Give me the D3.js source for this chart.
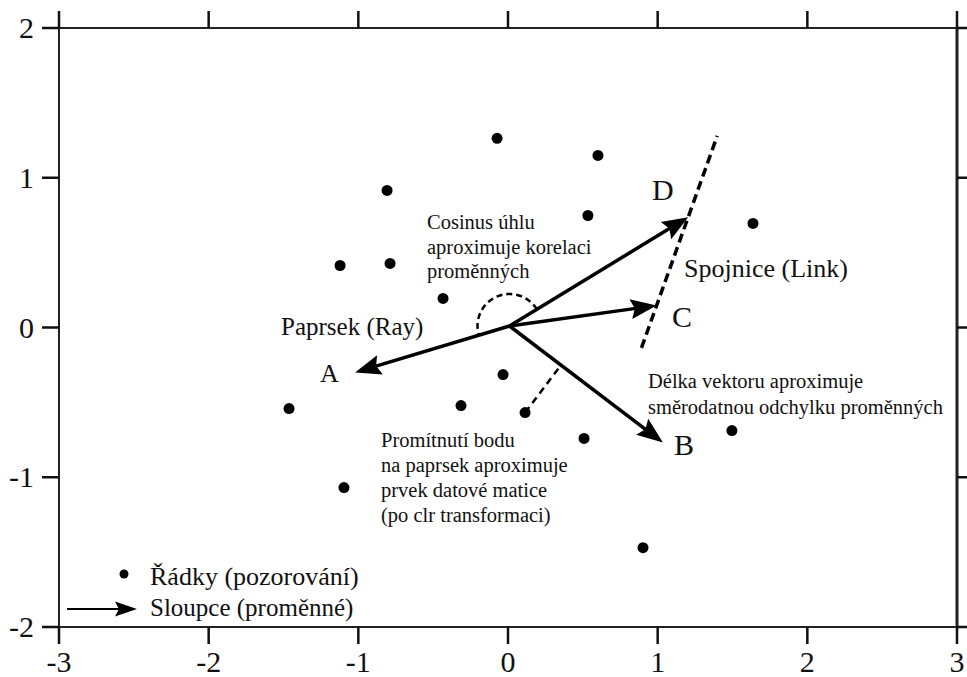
<!DOCTYPE html>
<html><head><meta charset="utf-8">
<script src="https://cdn.jsdelivr.net/npm/d3@7"></script>
<style>html,body{margin:0;padding:0;background:#fff;}svg{display:block;}
svg text{font-family:"Liberation Serif","Times New Roman","DejaVu Serif",serif;}</style>
</head><body>
<script>
// ---- data ----
const rowX = [-0.073, 0.601, -0.808, 0.534, 1.637, -1.122, -0.788, -0.434, -0.033, -0.314, 0.114, -1.463, 0.508, 1.496, -1.096, 0.902];
const rowY = [1.263, 1.149, 0.915, 0.748, 0.695, 0.414, 0.428, 0.194, -0.314, -0.521, -0.568, -0.541, -0.741, -0.688, -1.069, -1.470];
const varNames = ["A", "D", "C", "B"];
const varX = [-1.022, 1.204, 0.993, 1.035];
const varY = [-0.300, 0.737, 0.147, -0.768];
const origin = [0.01, 0.01];
const xTicks = [-3, -2, -1, 0, 1, 2, 3];
const yTicks = [-2, -1, 0, 1, 2];
const projectedRow = 10;   // index of the row projected onto ray B
const projectedVar = 3;    // index of variable B
const legendLabels = ["Řádky (pozorování)", "Sloupce (proměnné)"];

const W = 967, H = 677;
const x = d3.scaleLinear().domain([-3, 3]).range([59, 957]);
const y = d3.scaleLinear().domain([-2, 2]).range([627, 28]);
const FONT = "Liberation Serif, Times New Roman, DejaVu Serif, serif";

const svg = d3.select("body").append("svg").attr("width", W).attr("height", H);

// ---- frame with outward ticks ----
const TL = 17;
const frame = svg.append("g").attr("stroke", "#222").attr("fill", "none");
frame.append("line").attr("x1", x(-3)).attr("x2", x(3)).attr("y1", y(2)).attr("y2", y(2)).attr("stroke-width", 2);
frame.append("line").attr("x1", x(-3)).attr("x2", x(3)).attr("y1", y(-2)).attr("y2", y(-2)).attr("stroke-width", 2);
frame.append("line").attr("x1", x(-3)).attr("x2", x(-3)).attr("y1", y(2)).attr("y2", y(-2)).attr("stroke-width", 2);
frame.append("line").attr("x1", x(3)).attr("x2", x(3)).attr("y1", y(2)).attr("y2", y(-2)).attr("stroke-width", 3);

const tk = svg.append("g").attr("stroke", "#111").attr("stroke-width", 2.5);
xTicks.forEach(v => {
  tk.append("line").attr("x1", x(v)).attr("x2", x(v)).attr("y1", y(2)).attr("y2", y(2) - TL);
  tk.append("line").attr("x1", x(v)).attr("x2", x(v)).attr("y1", y(-2)).attr("y2", y(-2) + TL);
});
yTicks.forEach(v => {
  tk.append("line").attr("x1", x(-3)).attr("x2", x(-3) - TL).attr("y1", y(v)).attr("y2", y(v));
  tk.append("line").attr("x1", x(3)).attr("x2", x(3) + TL).attr("y1", y(v)).attr("y2", y(v));
});

svg.append("g").selectAll("text").data(xTicks).join("text")
  .attr("x", d => x(d)).attr("y", 672).attr("text-anchor", "middle").attr("font-family", FONT)
  .attr("font-size", 30).attr("fill", "#111").text(d => d);
svg.append("g").selectAll("text").data(yTicks).join("text")
  .attr("x", 34).attr("y", d => y(d)).attr("dy", "0.34em").attr("text-anchor", "end").attr("font-family", FONT)
  .attr("font-size", 30).attr("fill", "#111").text(d => d);

// ---- helpers ----
function arrowHead(g, x1, y1, x2, y2, len, hw) {
  const dx = x2 - x1, dy = y2 - y1, L = Math.hypot(dx, dy);
  const ux = dx / L, uy = dy / L, px = -uy, py = ux;
  const bx = x2 - ux * len, by = y2 - uy * len;
  g.append("path").attr("d",
    `M${x2},${y2}L${bx + px * hw},${by + py * hw}L${bx + ux * 4},${by + uy * 4}L${bx - px * hw},${by - py * hw}Z`)
    .attr("fill", "#000");
  return [bx + ux * 5, by + uy * 5];
}

// ---- dashed link through C and D ----
const ci = 2, di = 1;
const lx = t => varX[ci] + t * (varX[di] - varX[ci]);
const ly = t => varY[ci] + t * (varY[di] - varY[ci]);
svg.append("line")
  .attr("x1", x(lx(-0.48))).attr("y1", y(ly(-0.48)))
  .attr("x2", x(lx(1.92))).attr("y2", y(ly(1.92)))
  .attr("stroke", "#000").attr("stroke-width", 3.5).attr("stroke-dasharray", "9,5");

// ---- projection dashed line (row onto ray B) ----
{
  const px0 = rowX[projectedRow] - origin[0], py0 = rowY[projectedRow] - origin[1];
  const vx = varX[projectedVar] - origin[0], vy = varY[projectedVar] - origin[1];
  const t = (px0 * vx + py0 * vy) / (vx * vx + vy * vy);
  svg.append("line")
    .attr("x1", x(rowX[projectedRow])).attr("y1", y(rowY[projectedRow]))
    .attr("x2", x(origin[0] + t * vx)).attr("y2", y(origin[1] + t * vy))
    .attr("stroke", "#000").attr("stroke-width", 2.5).attr("stroke-dasharray", "7,5");
}

// ---- dashed angle arc between D and A ----
{
  const ox = x(origin[0]), oy = y(origin[1]);
  const aD = Math.atan2(-(y(varY[1]) - oy), x(varX[1]) - ox);
  const aA = Math.atan2(-(y(varY[0]) - oy), x(varX[0]) - ox) + 2 * Math.PI;
  const R = 32;
  const pts = d3.range(0, 1.0001, 0.02).map(f => {
    const a = aD + f * (aA - aD);
    return [ox + R * Math.cos(a), oy - R * Math.sin(a)];
  });
  svg.append("path").attr("d", d3.line()(pts)).attr("fill", "none")
    .attr("stroke", "#000").attr("stroke-width", 2.5).attr("stroke-dasharray", "6,4");
}

// ---- variable arrows ----
const arrows = svg.append("g");
varNames.forEach((n, i) => {
  const x1 = x(origin[0]), y1 = y(origin[1]), x2 = x(varX[i]), y2 = y(varY[i]);
  const end = arrowHead(arrows, x1, y1, x2, y2, 26, 10);
  arrows.append("line").attr("x1", x1).attr("y1", y1).attr("x2", end[0]).attr("y2", end[1])
    .attr("stroke", "#000").attr("stroke-width", 3.5);
});

// ---- rows (points) ----
svg.append("g").selectAll("circle").data(rowX).join("circle")
  .attr("cx", (d, i) => x(d)).attr("cy", (d, i) => y(rowY[i])).attr("r", 5.5).attr("fill", "#000");

// ---- variable labels ----
const varLabelPos = { A: [320, 382, 26], D: [652, 200, 30], C: [672, 327, 30], B: [674, 455, 30] };
varNames.forEach(n => {
  const p = varLabelPos[n];
  svg.append("text").attr("x", p[0]).attr("y", p[1]).attr("font-family", FONT).attr("font-size", p[2]).attr("fill", "#111").text(n);
});

// ---- annotations ----
function block(lines, x0, y0, lh, fs) {
  const t = svg.append("text").attr("font-family", FONT).attr("font-size", fs).attr("fill", "#111");
  lines.forEach((s, i) => t.append("tspan").attr("x", x0).attr("y", y0 + i * lh).text(s));
}
block(["Cosinus úhlu", "aproximuje korelaci", "proměnných"], 427, 229, 24.5, 20.5);
block(["Paprsek (Ray)"], 281, 335, 0, 25);
block(["Spojnice (Link)"], 684, 277, 0, 26);
block(["Délka vektoru aproximuje", "směrodatnou odchylku proměnných"], 648, 388, 26, 20.5);
block(["Promítnutí bodu", "na paprsek aproximuje", "prvek datové matice", "(po clr transformaci)"], 381, 447, 25, 20.5);

// ---- legend ----
svg.append("circle").attr("cx", 124).attr("cy", 574).attr("r", 4.5).attr("fill", "#000");
{
  const g = svg.append("g");
  const end = arrowHead(g, 67, 609, 137, 609, 22, 7.5);
  g.append("line").attr("x1", 67).attr("y1", 609).attr("x2", end[0]).attr("y2", 609)
    .attr("stroke", "#000").attr("stroke-width", 2.2);
}
svg.append("text").attr("x", 150).attr("y", 585).attr("font-family", FONT).attr("font-size", 26).attr("fill", "#111").text(legendLabels[0]);
svg.append("text").attr("x", 150).attr("y", 616).attr("font-family", FONT).attr("font-size", 25).attr("fill", "#111").text(legendLabels[1]);
</script>
</body></html>
